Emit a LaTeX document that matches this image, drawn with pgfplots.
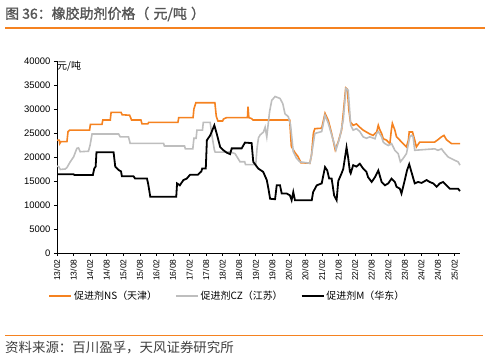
\documentclass[border=0pt]{standalone}
\usepackage{pgfplots}
\pgfplotsset{compat=1.18}
\usepackage{fontspec}
\setmainfont{Liberation Sans}
\newfontfamily\cjk{Noto Sans CJK SC}
\newfontfamily\cjkb{Noto Sans CJK SC}[FakeBold=1.5]
\definecolor{nsorange}{RGB}{245,130,32}
\definecolor{czgrey}{RGB}{190,190,190}
\definecolor{titlegrey}{RGB}{85,85,85}
\definecolor{srcgrey}{RGB}{64,64,64}
\begin{document}
\begin{tikzpicture}
\path[use as bounding box] (0,0) rectangle (488bp,359bp);
\node[anchor=west, inner sep=0, text=titlegrey] at (5bp,345bp) {\cjkb\fontsize{14}{16}\selectfont 图 36：橡胶助剂价格（\hspace{0.3em}元/吨\hspace{0.3em}）};
\draw[nsorange, line width=1.2bp] (5bp,331bp) -- (485bp,331bp);
\draw[nsorange, line width=1bp] (5bp,23.5bp) -- (483bp,23.5bp);
\node[anchor=west, inner sep=0, text=srcgrey] at (5bp,11bp) {\cjk\fontsize{13.5}{15}\selectfont 资料来源：百川盈孚，天风证券研究所};
\begin{axis}[
  at={(57bp,106bp)}, anchor=south west,
  scale only axis, width=403bp, height=192bp,
  xmin=0, xmax=146, ymin=0, ymax=40000,
  axis lines*=left,
  axis line style={line width=0.8bp, black},
  tick align=outside, major tick length=3bp,
  tick style={black, line width=0.6bp},
  xtick={0,6,...,144},
  xticklabels={13/02,13/08,14/02,14/08,15/02,15/08,16/02,16/08,17/02,17/08,18/02,18/08,19/02,19/08,20/02,20/08,21/02,21/08,22/02,22/08,23/02,23/08,24/02,24/08,25/02},
  x tick label style={rotate=90, anchor=east, font=\fontsize{8.5}{10}\selectfont},
  ytick={0,5000,...,40000},
  y tick label style={font=\fontsize{9.5}{11}\selectfont},
  scaled y ticks=false,
  /pgf/number format/1000 sep={},
  /pgf/number format/assume math mode=true,
  legend columns=3,
  legend style={at={(0.423,-0.224)}, anchor=center, draw=none, fill=none,
    font=\cjk\fontsize{10}{12}\selectfont,
    /tikz/every even column/.append style={column sep=16bp},
    inner sep=0pt},
  legend image code/.code={\draw[#1] (0bp,0bp) -- (22bp,0bp);},
  clip=false,
]
\node[anchor=north west, inner sep=0] at (rel axis cs:0,1) {\cjk\fontsize{10}{12}\selectfont 元/吨};
\addplot[nsorange, line width=1.6bp] coordinates {
(0,23500)(0.8,23500)(1.0,22800)(1.4,23200)(3.6,23200)(4.0,25300)(4.6,25600)(11.8,25600)(12.1,26800)(16.3,26800)(16.6,27700)(19.3,27700)(19.6,29300)(23.2,29300)(23.6,28800)(26.3,28700)(26.6,28300)(27.0,27700)(30.4,27700)(30.8,26900)(32.9,26900)(33.2,27200)(43.8,27200)(44.1,28200)(49.3,28200)(49.6,30000)(50.3,31300)(57.2,31300)(57.7,28500)(58.3,27500)(60.0,27500)(60.3,27900)(61.4,28200)(69.0,28200)(69.2,30500)(69.5,28200)(70.5,28000)(71.0,27700)(84.3,27700)(84.9,22200)(86.1,21000)(87.3,20100)(88.4,18800)(91.6,18700)(92.2,20400)(92.9,25000)(93.4,25900)(95.9,26000)(97.1,29100)(98.3,27600)(99.5,24900)(100.8,21500)(101.9,23200)(103.1,25600)(103.7,29000)(104.6,34400)(105.2,34100)(105.7,30000)(106.3,27300)(107.3,26600)(108.5,26900)(109.7,26200)(110.9,25600)(112.1,25200)(113.3,24800)(114.5,24500)(115.8,25200)(116.4,26600)(117.0,25600)(117.6,24900)(118.2,23800)(119.4,23500)(120.6,22800)(121.1,25500)(121.5,27000)(122.4,25600)(123.0,24200)(124.2,23500)(125.4,22800)(126.6,22100)(127.3,23500)(127.6,25200)(128.8,25200)(129.6,23500)(130.2,22100)(131.4,23100)(136.8,23100)(138.0,23600)(139.3,24200)(140.2,24500)(141.1,23600)(142.9,22800)(146.0,22800)
};
\addlegendentry{促进剂NS（天津）}
\addplot[czgrey, line width=1.6bp] coordinates {
(0,18100)(0.6,18000)(1.2,17400)(3.0,17500)(3.6,17800)(4.8,19000)(6.0,20000)(7.2,21800)(7.8,21900)(8.4,21100)(11.4,21200)(12.0,22500)(12.7,24800)(22.3,24800)(22.9,24200)(25.9,24200)(26.5,22850)(38.6,22850)(38.9,22300)(46.2,22300)(46.5,21700)(49.2,21700)(49.6,23900)(50.4,23900)(50.7,25600)(52.7,25600)(53.0,27200)(55.5,27200)(56.1,24600)(57.0,21500)(57.3,21000)(61.5,21000)(62.5,21100)(64.5,20700)(66.0,19300)(66.3,19000)(68.0,19000)(68.3,18400)(72.0,18400)(72.5,22000)(73.0,24000)(73.6,24600)(74.8,25200)(75.4,26200)(76.0,24200)(77.0,29400)(77.8,31800)(79.0,32600)(80.8,32200)(81.8,31100)(82.6,29000)(83.8,28400)(84.6,26700)(85.6,21100)(86.8,19700)(88.0,19000)(91.6,18700)(92.2,20400)(93.4,24900)(95.9,25300)(97.1,28700)(98.3,27000)(99.5,24600)(101.1,21500)(102.5,24200)(103.7,27700)(104.7,34300)(105.5,33900)(106.4,26600)(107.3,25600)(108.5,25900)(109.7,25300)(110.9,24200)(112.1,23900)(113.3,24200)(115.2,23800)(115.8,24900)(116.4,25300)(117.6,24200)(118.2,23100)(118.8,22800)(120.0,22400)(121.2,22800)(122.4,21400)(123.6,20700)(124.4,19000)(125.4,19700)(126.6,20700)(127.8,24200)(128.4,24500)(129.0,24200)(129.6,21400)(136.8,21700)(138.0,21400)(139.3,21700)(140.2,21000)(141.7,20000)(144.1,19300)(145.3,19000)(146.0,18300)
};
\addlegendentry{促进剂CZ（江苏）}
\addplot[black, line width=1.8bp] coordinates {
(0,16400)(6.0,16400)(6.3,16250)(13.0,16250)(13.5,17600)(14.0,18000)(14.3,21000)(20.5,21000)(21.1,18000)(22.3,17300)(23.2,17000)(23.5,16000)(27.7,16000)(28.3,15500)(32.6,15500)(33.0,14500)(33.8,11700)(43.2,11700)(43.5,14500)(44.5,14100)(45.8,15200)(47.0,15500)(48.2,16300)(51.0,16300)(52.3,17000)(52.6,17600)(53.9,17600)(54.3,23500)(55.5,24500)(57.0,26600)(57.8,25000)(59.1,22100)(60.3,21400)(61.5,20900)(62.7,20600)(63.3,21800)(66.9,21800)(68.1,23000)(70.5,22900)(71.1,19000)(72.9,17600)(74.7,16900)(76.0,15200)(76.6,13400)(77.2,11300)(79.0,11200)(79.6,14100)(80.8,14100)(81.4,12400)(83.2,12400)(84.4,12000)(85.0,11000)(85.6,12700)(86.2,11000)(92.3,11000)(92.8,12700)(94.1,14100)(95.9,14500)(97.1,17900)(97.9,17200)(98.6,15500)(99.5,15500)(100.4,12000)(101.3,11000)(101.9,15000)(103.1,16600)(103.7,17500)(104.9,22000)(105.5,19800)(106.1,17000)(106.4,16600)(107.3,18300)(108.5,18000)(109.7,18600)(110.9,17600)(112.1,16900)(112.7,15800)(114.0,14800)(115.2,15800)(116.4,17200)(117.6,14800)(118.8,14100)(120.0,14500)(121.2,15500)(122.4,14800)(123.0,13800)(124.2,13400)(124.8,12400)(126.0,15200)(126.8,17200)(127.6,18500)(128.4,16900)(129.6,14500)(130.8,14800)(132.1,14600)(133.9,15200)(135.0,14800)(136.3,14500)(137.5,13800)(138.7,14500)(139.9,14800)(141.1,14100)(142.3,13400)(145.3,13400)(146.0,12900)
};
\addlegendentry{促进剂M（华东）}
\end{axis}
\end{tikzpicture}
\end{document}
